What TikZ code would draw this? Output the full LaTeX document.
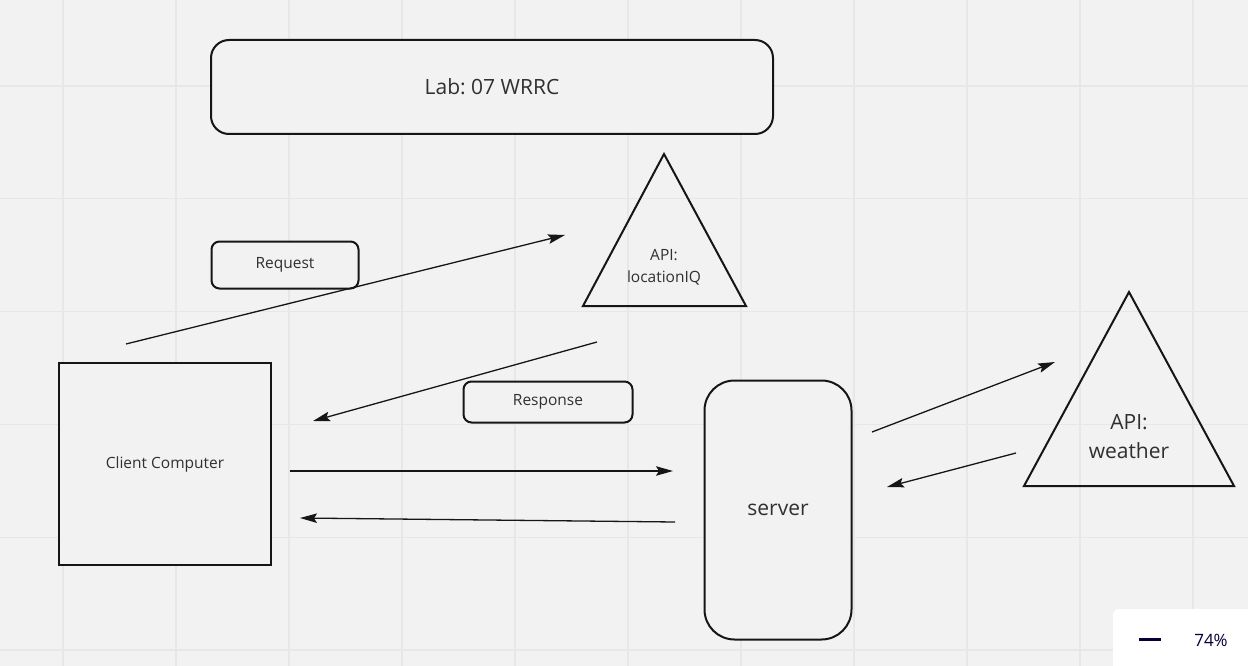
\documentclass[tikz,border=0pt]{standalone}
\usepackage{fontspec}
\setmainfont{Open Sans}
\usetikzlibrary{arrows.meta}
\definecolor{bg}{HTML}{F2F2F2}
\definecolor{gridc}{HTML}{E7E7E7}
\definecolor{stroke}{HTML}{161616}
\definecolor{txt}{HTML}{303030}
\definecolor{navy}{HTML}{050038}
\tikzset{
  shapebox/.style={draw=stroke, line width=2pt, fill=bg, text=txt, inner sep=0pt},
  smalltxt/.style={font=\fontsize{15.5}{22}\selectfont},
  bigtxt/.style={font=\fontsize{21}{29}\selectfont},
  flow/.style={draw=stroke, line width=1.3pt, -{Stealth[length=17pt,width=9.5pt,inset=3pt]}},
  tri/.style={draw=stroke, line width=2pt, line join=miter},
  lbl/.style={text=txt, inner sep=0pt, align=center}
}
\begin{document}
\frenchspacing
\begin{tikzpicture}[x=1pt,y=-1pt]
\useasboundingbox (0,0) rectangle (1248,666);
\fill[bg] (0,0) rectangle (1248,666);
% grid
\foreach \i in {0,...,10} {\draw[gridc, line width=1.1pt] ({63+113*\i},0) -- ({63+113*\i},666);}
\foreach \j in {0,...,5} {\draw[gridc, line width=1.1pt] (0,{86+112.8*\j}) -- (1248,{86+112.8*\j});}

% title
\node[shapebox, rounded corners=18pt, minimum width=562pt, minimum height=94pt, bigtxt] (title) at (492,87) {Lab: 07 WRRC};

% request / response labels
\node[shapebox, rounded corners=8pt, minimum width=147pt, minimum height=47pt, smalltxt] (req) at (285,265) {Request};
\node[shapebox, rounded corners=8pt, minimum width=169pt, minimum height=41pt, smalltxt] (resp) at (548,402) {Response};

% client computer
\node[shapebox, minimum width=212pt, minimum height=202pt, smalltxt] (client) at (165,464) {Client Computer};

% server
\node[shapebox, rounded corners=30pt, minimum width=147pt, minimum height=259pt, bigtxt] (server) at (778,510) {server};

% triangles
\draw[tri] (664,154) -- (746,306) -- (583,306) -- cycle;
\node[lbl, smalltxt] (locapi) at (664,267) {API:\\locationIQ};
\draw[tri] (1129,292) -- (1234,486) -- (1024,486) -- cycle;
\node[lbl, bigtxt] (weatherapi) at (1129,437) {API:\\weather};

% arrow endpoints
\coordinate (a1s) at (126,344); \coordinate (a1e) at (565,235);
\coordinate (a2s) at (597,342); \coordinate (a2e) at (313,421);
\coordinate (a3s) at (290,471); \coordinate (a3e) at (673,471);
\coordinate (a4s) at (675,522); \coordinate (a4e) at (300,518);
\coordinate (a5s) at (872,432); \coordinate (a5e) at (1055,362);
\coordinate (a6s) at (1016,453); \coordinate (a6e) at (887,487);

\draw[flow] (a1s) -- (a1e);
\draw[flow] (a2s) -- (a2e);
\draw[flow] (a3s) -- (a3e);
\draw[flow] (a4s) -- (a4e);
\draw[flow] (a5s) -- (a5e);
\draw[flow] (a6s) -- (a6e);

% zoom panel
\fill[white, rounded corners=6pt] (1113,609) rectangle (1262,680);
\draw[navy, line width=3pt] (1139,639) -- (1161,639);
\node[text=navy, inner sep=0pt, font=\fontsize{17}{20}\selectfont] (zoomlbl) at (1211,640) {74\%};
\end{tikzpicture}
\end{document}
